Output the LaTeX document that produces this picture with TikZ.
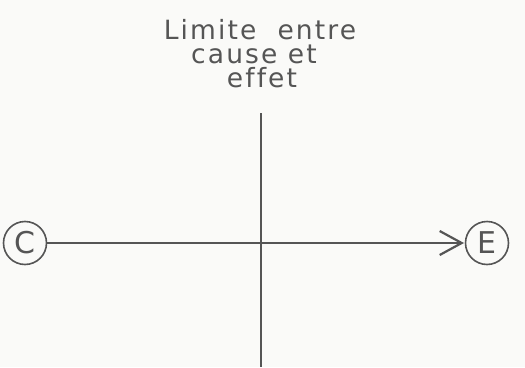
\documentclass[tikz,border=0pt]{standalone}
\usepackage{fontspec}
\setmainfont{DejaVu Sans}
\newfontfamily\lblfont[LetterSpace=8,Ligatures=NoCommon]{DejaVu Sans}
\usetikzlibrary{arrows.meta}
\definecolor{ink}{RGB}{85,85,85}
\definecolor{paper}{RGB}{250,250,248}
\begin{document}
\begin{tikzpicture}[x=1pt,y=-1pt,
  every node/.style={text=ink},
  endpt/.style={circle,draw=ink,line width=1.6pt,minimum size=43pt,inner sep=0pt,font=\fontsize{30}{30}\selectfont},
  wire/.style={draw=ink,line width=2pt}]
\fill[paper] (0,0) rectangle (525,367);
\useasboundingbox (0,0) rectangle (525,367);
\node[endpt] (c) at (25,243) {C};
\node[endpt] (e) at (487,243) {E};
\node[align=center,font=\lblfont\fontsize{26.5}{24}\selectfont,inner sep=0pt,anchor=north] (lbl) at (260,19) {Limite\ \ entre\\cause et\kern12pt\\\kern4pt effet};
\coordinate (vt) at (261,113);
\coordinate (vb) at (261,367);
\coordinate (tip) at (464,243);
\draw[wire,line width=2.6pt] (vt) -- (vb);
\draw[wire,-{Straight Barb[length=22pt,width=24pt,line width=2.2pt]}] (c) -- (tip);
\end{tikzpicture}
\end{document}
